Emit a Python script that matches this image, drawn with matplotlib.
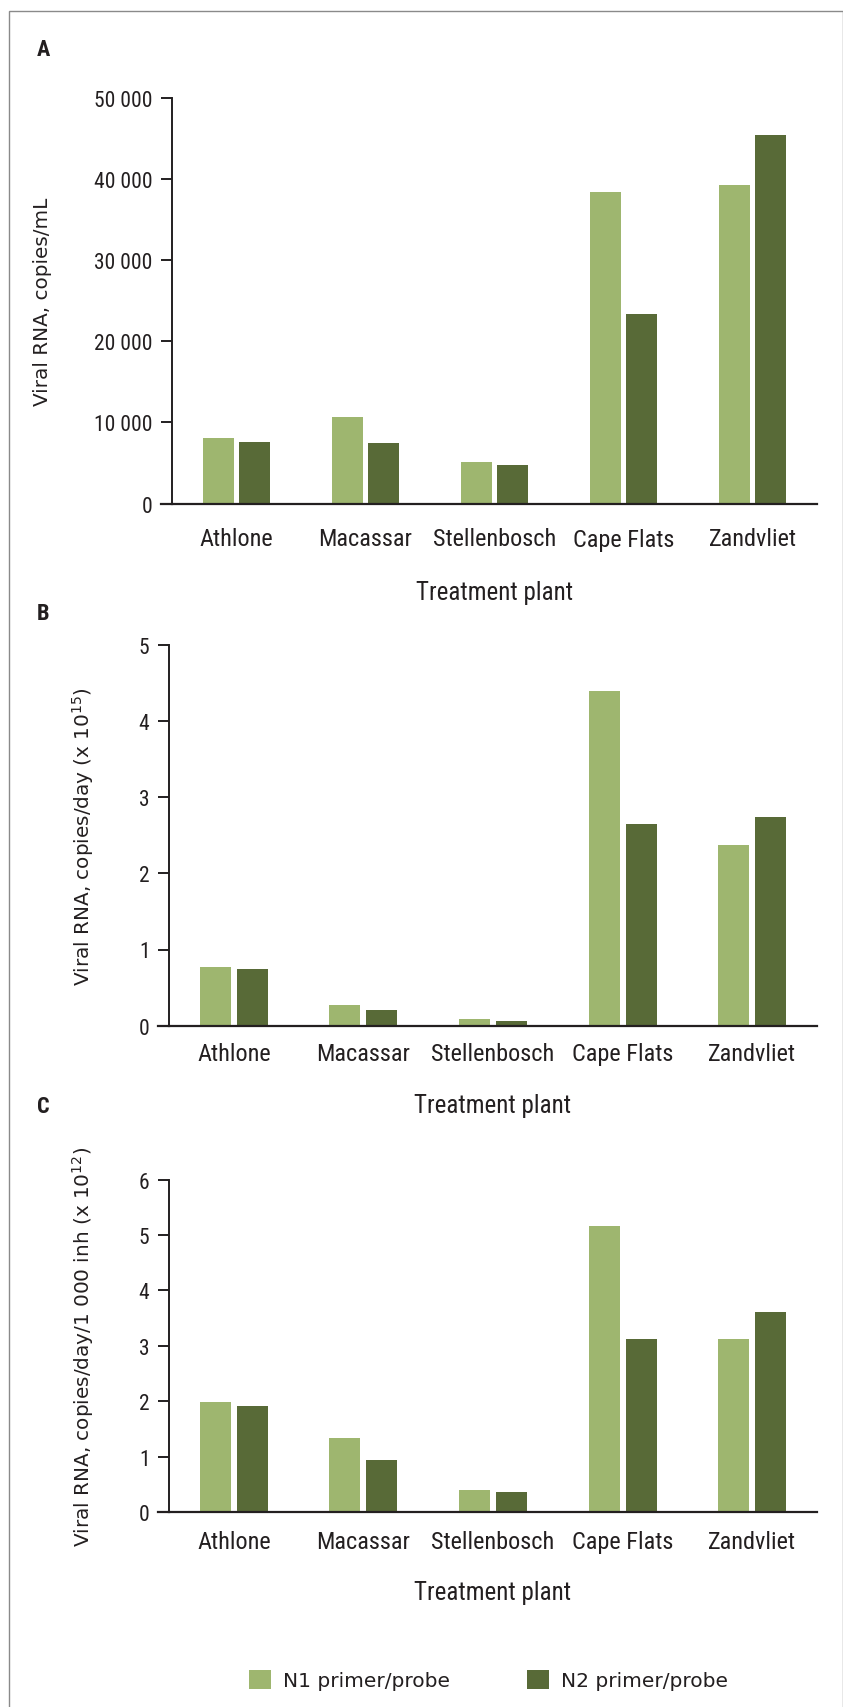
import matplotlib
matplotlib.use("Agg")
import matplotlib.pyplot as plt
import numpy as np
from matplotlib.patches import Rectangle
from matplotlib import font_manager as fm

plt.rcParams['font.family'] = ['DejaVu Sans']

# Data
plants = ["Athlone", "Macassar", "Stellenbosch", "Cape Flats", "Zandvliet"]
series = ["N1 primer/probe", "N2 primer/probe"]

conc_n1 = [8100, 10700, 5150, 38400, 39250]
conc_n2 = [7600, 7480, 4750, 23370, 45400]

load_n1 = [0.77, 0.27, 0.09, 4.39, 2.37]
load_n2 = [0.745, 0.205, 0.06, 2.65, 2.74]

norm_n1 = [1.99, 1.33, 0.39, 5.16, 3.12]
norm_n2 = [1.92, 0.94, 0.36, 3.13, 3.61]

light = "#9eb66f"
dark = "#586a37"
axcol = "#231f20"


# look for a condensed sans font for the tick and category labels
def find_condensed(bold=False):
    good = []
    for f in fm.fontManager.ttflist:
        n = f.name
        if "Mono" in n or "Serif" in n or f.style != "normal":
            continue
        is_cond = ("Narrow" in n or "Condensed" in n or "condensed" in str(f.stretch))
        if not is_cond:
            continue
        w = f.weight if isinstance(f.weight, int) else (700 if "bold" in str(f.weight) else 400)
        if bold and w < 600:
            continue
        if not bold and w != 400:
            continue
        good.append(f)
    order = ["Liberation Sans Narrow", "Roboto Condensed", "Open Sans Condensed",
             "DejaVu Sans Condensed", "DejaVu Sans", "Noto Sans"]
    good.sort(key=lambda f: order.index(f.name) if f.name in order else 99)
    if good:
        return fm.FontProperties(fname=good[0].fname)
    return fm.FontProperties(family="DejaVu Sans", weight="bold" if bold else "normal")


cond = find_condensed()
cond_bold = find_condensed(bold=True)

fig = plt.figure(figsize=(8.43, 17.08), dpi=100)

# frame around the figure (top, left, right)
fig.patches.append(Rectangle((9 / 843, -0.05), 1 - 9 / 843 - 0.5 / 843, 1.05 - 12 / 1708,
                             transform=fig.transFigure, fill=False,
                             edgecolor="#8a8a8a", linewidth=1.0))

panels = [
    ("A", [172 / 843, 1 - 504.6 / 1708, 645 / 843, 405.7 / 1708], conc_n1, conc_n2,
     [0, 10000, 20000, 30000, 40000, 50000], ["0", "10 000", "20 000", "30 000", "40 000", "50 000"],
     "Viral RNA, copies/mL", 43, 1 - 50 / 1708, 1 - 540 / 1708, 1 - 593 / 1708),
    ("B", [169 / 843, 1 - 1026.7 / 1708, 648 / 843, 381 / 1708], load_n1, load_n2,
     [0, 1, 2, 3, 4, 5], ["0", "1", "2", "3", "4", "5"],
     r"Viral RNA, copies/day (x 10$^{15}$)", 83, 1 - 614 / 1708, 1 - 1055 / 1708, 1 - 1106 / 1708),
    ("C", [169 / 843, 1 - 1513 / 1708, 648 / 843, 332.4 / 1708], norm_n1, norm_n2,
     [0, 1, 2, 3, 4, 5, 6], ["0", "1", "2", "3", "4", "5", "6"],
     r"Viral RNA, copies/day/1 000 inh (x 10$^{12}$)", 83, 1 - 1107 / 1708, 1 - 1543 / 1708, 1 - 1593 / 1708),
]

x = np.arange(len(plants))
w = 0.24
off = 0.143

for letter, rect, v1, v2, ticks, ticklabels, ylab, ylab_x, let_y, cat_y, xl_y in panels:
    ax = fig.add_axes(rect)
    b1 = ax.bar(x - off, v1, width=w, color=light)
    b2 = ax.bar(x + off, v2, width=w, color=dark)
    ax.set_xlim(-0.5, 4.5)
    ax.set_ylim(0, ticks[-1])
    ax.set_yticks(ticks)
    ax.set_yticklabels(ticklabels, fontproperties=cond, fontsize=15.5, color=axcol)
    ax.set_xticks([])
    for s in ["top", "right"]:
        ax.spines[s].set_visible(False)
    ax.spines["left"].set_color(axcol)
    ax.spines["bottom"].set_color(axcol)
    ax.spines["left"].set_linewidth(1.4)
    ax.spines["bottom"].set_linewidth(1.6)
    ax.tick_params(axis="y", direction="out", length=8, width=1.4, color=axcol, pad=6)
    # baseline extends left like the ticks
    ax.plot([-0.5 - 11 / 129, -0.5], [0, 0], color=axcol, lw=1.6, clip_on=False)

    # category labels and axis title in figure coords
    for i, p in enumerate(plants):
        xf = rect[0] + rect[2] * (i + 0.5) / 5
        fig.text(xf, cat_y, p, ha="center", va="center", fontproperties=cond,
                 fontsize=17.5, color=axcol)
    fig.text(rect[0] + rect[2] / 2, xl_y, "Treatment plant", ha="center", va="center",
             fontproperties=cond, fontsize=18, color=axcol)
    fig.text(ylab_x / 843, rect[1] + rect[3] / 2, ylab, rotation=90, ha="center", va="center",
             fontsize=14.4, color=axcol, family="DejaVu Sans")
    fig.text(37 / 843, let_y, letter, ha="left", va="center", fontproperties=cond_bold,
             fontsize=16, color=axcol)

fig.legend([b1, b2], series, loc="center", bbox_to_anchor=(0.5795, 1 - 1681 / 1708),
           ncol=2, frameon=False, fontsize=14.5, handlelength=1.1, handleheight=1.1,
           columnspacing=3.8, handletextpad=0.6, labelcolor=axcol)

plt.savefig("out.png", dpi=100)
